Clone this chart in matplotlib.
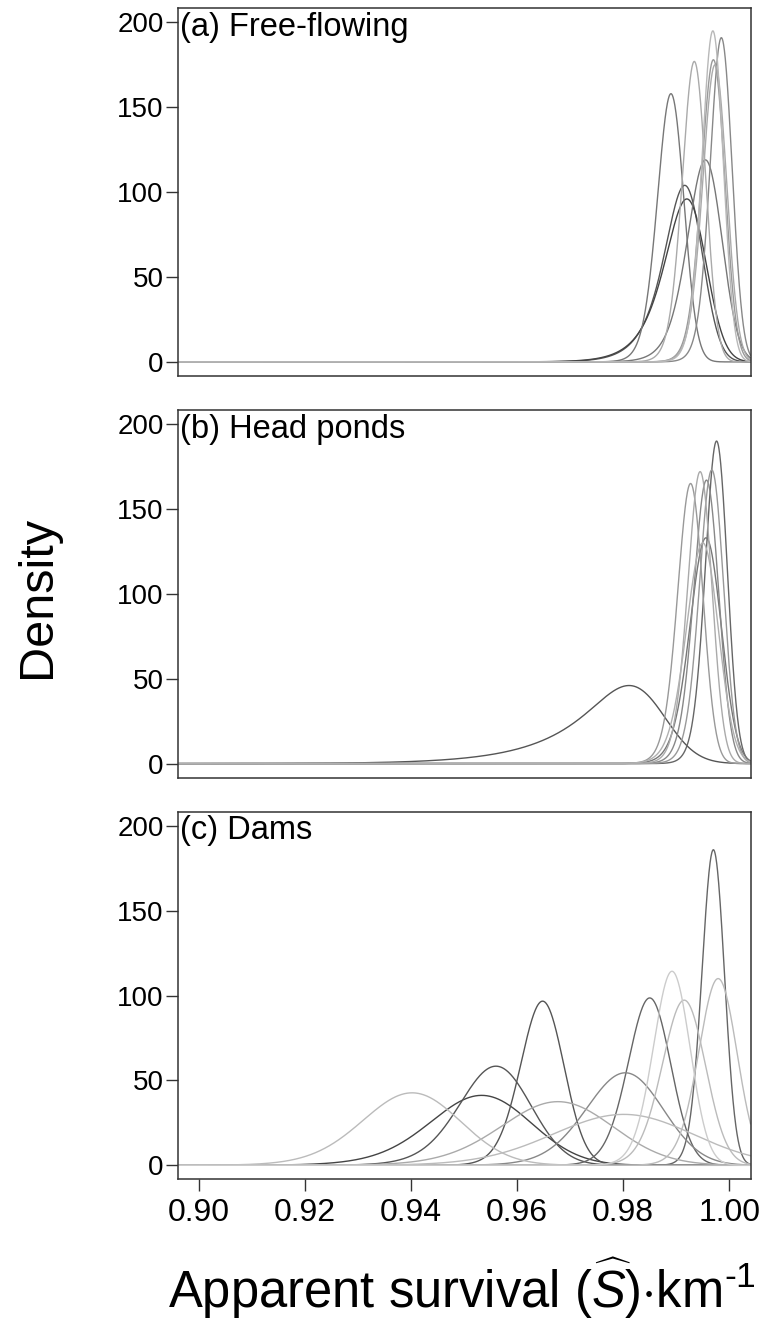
import numpy as np
import matplotlib
matplotlib.use("Agg")
import matplotlib.pyplot as plt

plt.rcParams['font.family'] = ['Liberation Sans', 'DejaVu Sans']
plt.rcParams['mathtext.fontset'] = 'custom'
plt.rcParams['mathtext.rm'] = 'Liberation Sans'
plt.rcParams['mathtext.it'] = 'Liberation Sans:italic'

# ---------------------------------------------------------------- data ----#
# each curve: mode of the survival density, peak density,
# left-tail length (relative to the gaussian width) and line grey

panel_labels = ["(a) Free-flowing", "(b) Head ponds", "(c) Dams"]

free_modes = [0.9916, 0.9920, 0.9890, 0.9955, 0.9985, 0.9970, 0.9934, 0.9973, 0.9969]
free_peaks = [104, 96, 158, 119, 191, 178, 177, 175, 195]
free_tails = [1.2, 1.2, 0.6, 0.8, 0.6, 0.6, 0.6, 0.6, 0.6]
free_greys = ['#555555', '#444444', '#777777', '#777777', '#888888', '#999999',
              '#aaaaaa', '#aaaaaa', '#b8b8b8']

pond_modes = [0.9811, 0.9976, 0.9956, 0.9957, 0.9927, 0.9967, 0.9945, 0.9950]
pond_peaks = [46, 190, 133, 167, 165, 173, 172, 130]
pond_tails = [2.0, 0.6, 0.6, 0.6, 0.6, 0.6, 0.6, 0.6]
pond_greys = ['#555555', '#666666', '#777777', '#888888', '#999999', '#999999',
              '#aaaaaa', '#b0b0b0']

dam_modes = [0.9533, 0.9560, 0.9648, 0.9970, 0.9850, 0.9804, 0.9677, 0.9402,
             0.9801, 0.9915, 0.9979, 0.9892]
dam_peaks = [41.2, 58.4, 96.7, 185.9, 98.6, 54.5, 37.5, 42.7, 30.0, 97.3, 110, 114.3]
dam_tails = [0.6, 0.6, 0.5, 0.5, 0.5, 0.5, 0.5, 0.5, 0.4, 0.5, 0.5, 0.5]
dam_greys = ['#444444', '#555555', '#555555', '#666666', '#666666', '#888888',
             '#aaaaaa', '#bbbbbb', '#bbbbbb', '#bbbbbb', '#bbbbbb', '#cccccc']

x_ticks = [0.90, 0.92, 0.94, 0.96, 0.98, 1.00]
y_ticks = [0, 50, 100, 150, 200]


# --------------------------------- gaussian with an exponential left tail ----#

def curve(xs, mode, peak, tail):
    du = 0.005
    u = np.arange(-9, 9 + 12 * tail, du)
    g = np.exp(-0.5 * u ** 2) / np.sqrt(2 * np.pi)
    t = np.arange(0, 12 * tail, du)
    e = np.exp(-t / tail) / tail
    s = np.convolve(g, e)[:len(u)] * du
    i0 = np.argmax(s)
    sigma = s[i0] / peak
    x = mode - (u - u[i0]) * sigma
    return np.interp(xs, x[::-1], s[::-1] / sigma, left=0, right=0)


xs = np.linspace(0.896, 1.004, 2000)

fig = plt.figure(figsize=(7.63, 13.23), dpi=100)
W, H = 763, 1323
left, right = 177.7, 750.5
tops = [8.3, 410.0, 811.7]
height = 367.7

groups = [(free_modes, free_peaks, free_tails, free_greys),
          (pond_modes, pond_peaks, pond_tails, pond_greys),
          (dam_modes, dam_peaks, dam_tails, dam_greys)]

for i, (modes, peaks, tails, greys) in enumerate(groups):
    ax = fig.add_axes([left / W, 1 - (tops[i] + height) / H, (right - left) / W, height / H])
    for m, p, tl, g in zip(modes, peaks, tails, greys):
        ax.plot(xs, curve(xs, m, p, tl), color=g, lw=1.0)
    ax.set_xlim(0.896, 1.004)
    ax.set_ylim(-8.3, 208.3)
    ax.set_yticks(y_ticks)
    ax.set_yticklabels([str(v) for v in y_ticks])
    ax.tick_params(axis='y', direction='out', length=8.5, width=1.0, color='#333333',
                   labelsize=20, pad=1.5)
    ax.set_xticks(x_ticks)
    if i < 2:
        ax.tick_params(axis='x', bottom=False, labelbottom=False)
    else:
        ax.set_xticklabels(["%.2f" % v for v in x_ticks])
        ax.tick_params(axis='x', direction='out', length=8.5, width=1.0, color='#333333',
                       labelsize=23, pad=5)
    for s in ax.spines.values():
        s.set_color('#333333')
        s.set_linewidth(1.1)
    ax.text(0.004, 0.99, panel_labels[i], transform=ax.transAxes, ha='left', va='top',
            fontsize=23.5)

fig.text(38 / W, 1 - 597 / H, "Density", rotation=90, ha='center', va='center', fontsize=35)
fig.text(462 / W, 1 - 1288 / H, r"Apparent survival $(\widehat{S})$$\cdot$km$^{\text{-1}}$",
         ha='center', va='center', fontsize=36.5)

fig.savefig("out.png", dpi=100)
